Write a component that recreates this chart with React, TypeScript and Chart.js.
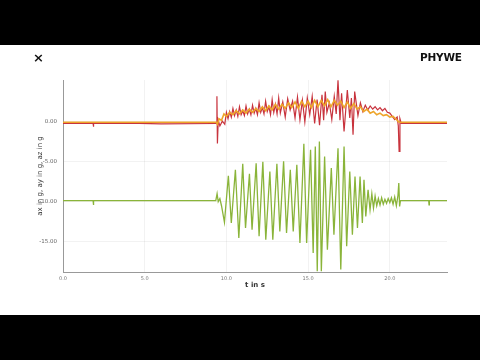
import React, { useEffect, useRef } from "react";
import { Chart, registerables } from "chart.js";

Chart.register(...registerables);

// x ticks and y ticks
const xTickValues = [0, 5, 10, 15, 20];
const yTickValues = [0, -5, -10, -15];

// ax (red)
const axT = [0, 1.84, 1.86, 1.88, 4, 6, 9.38, 9.42, 9.45, 9.5, 9.6, 9.75, 9.9, 10.0, 10.1, 10.2, 10.3, 10.4, 10.5, 10.6, 10.7, 10.8, 10.9, 11.0, 11.1, 11.2, 11.3, 11.4, 11.5, 11.6, 11.7, 11.8, 11.9, 12.0, 12.1, 12.2, 12.3, 12.4, 12.5, 12.6, 12.7, 12.8, 12.9, 13.0, 13.1, 13.2, 13.3, 13.45, 13.6, 13.75, 13.9, 14.05, 14.2, 14.35, 14.5, 14.65, 14.8, 14.95, 15.1, 15.25, 15.4, 15.55, 15.7, 15.85, 15.95, 16.05, 16.15, 16.3, 16.45, 16.6, 16.72, 16.83, 16.95, 17.05, 17.2, 17.4, 17.55, 17.65, 17.75, 17.85, 18.05, 18.2, 18.35, 18.5, 18.65, 18.8, 18.95, 19.1, 19.25, 19.4, 19.55, 19.7, 19.85, 20.0, 20.15, 20.3, 20.45, 20.52, 20.57, 20.62, 20.7, 23.5];
const axV = [-0.2, -0.2, -0.6, -0.2, -0.15, -0.25, -0.2, 3.2, -2.7, 0.2, -0.5, 0.1, -0.3, 1.2, 0.4, 1.3, 0.6, 1.7, 0.8, 1.5, 0.7, 1.9, 0.9, 1.4, 0.8, 2.0, 1.0, 1.6, 0.9, 2.1, 1.1, 1.7, 0.9, 2.4, 1.2, 1.8, 1.0, 2.6, 1.3, 1.9, 0.9, 2.8, 1.2, 2.2, 1.0, 3.0, 1.1, 2.5, 0.6, 2.9, 1.5, 2.6, 0.5, 3.1, 0.25, 2.7, 0.0, 3.0, 0.9, 3.2, -0.2, 2.8, -0.4, 3.4, 0.2, 3.8, 1.2, 2.4, 0.3, 3.2, 1.0, 5.2, 0.2, 3.6, -1.2, 4.0, 0.5, 3.0, -1.6, 3.8, 0.8, 2.4, 1.3, 2.1, 1.5, 2.0, 1.6, 1.9, 1.5, 1.8, 1.4, 1.7, 1.2, 1.1, 0.7, 0.3, 0.6, -0.5, -3.7, 0.4, -0.2, -0.2];

// ay (orange)
const ayT = [0, 9.38, 9.45, 9.55, 9.7, 9.85, 10.0, 10.2, 10.4, 10.6, 10.8, 11.0, 11.2, 11.4, 11.6, 11.8, 12.0, 12.2, 12.4, 12.6, 12.8, 13.0, 13.2, 13.4, 13.6, 13.8, 14.0, 14.2, 14.4, 14.6, 14.8, 15.0, 15.2, 15.4, 15.6, 15.8, 16.0, 16.2, 16.4, 16.6, 16.8, 17.0, 17.2, 17.4, 17.6, 17.8, 18.0, 18.2, 18.4, 18.6, 18.8, 19.0, 19.2, 19.4, 19.6, 19.8, 20.0, 20.2, 20.4, 20.55, 20.65, 23.5];
const ayV = [-0.05, -0.05, -0.3, 0.4, 0.2, 1.0, 0.7, 1.2, 0.9, 1.4, 1.0, 1.5, 1.1, 1.6, 1.2, 1.7, 1.3, 1.9, 1.4, 2.0, 1.5, 2.2, 1.6, 2.2, 1.7, 2.4, 1.8, 2.5, 1.7, 2.6, 1.9, 2.6, 1.8, 2.7, 1.9, 2.7, 2.0, 2.8, 1.9, 2.7, 2.1, 2.6, 1.8, 2.5, 1.7, 2.3, 1.6, 1.9, 1.3, 1.6, 1.1, 1.3, 0.9, 1.1, 0.8, 0.9, 0.6, 0.7, 0.3, 0.0, -0.05, -0.05];

// az (green)
const azT = [0, 1.84, 1.86, 1.88, 9.35, 9.43, 9.5, 9.6, 9.7, 9.88, 10.12, 10.3, 10.55, 10.76, 11.0, 11.17, 11.41, 11.57, 11.82, 12.0, 12.23, 12.41, 12.66, 12.84, 13.09, 13.27, 13.5, 13.68, 13.91, 14.09, 14.31, 14.5, 14.74, 14.91, 15.15, 15.31, 15.44, 15.56, 15.69, 15.81, 16.01, 16.18, 16.42, 16.58, 16.83, 17.0, 17.2, 17.36, 17.55, 17.71, 17.87, 18.02, 18.18, 18.32, 18.42, 18.53, 18.67, 18.79, 18.9, 19.0, 19.1, 19.2, 19.3, 19.4, 19.5, 19.6, 19.7, 19.8, 19.9, 20.0, 20.1, 20.2, 20.3, 20.4, 20.5, 20.55, 20.6, 20.65, 22.38, 22.4, 22.42, 23.5];
const azV = [-9.85, -9.85, -10.4, -9.85, -9.85, -9.0, -10.0, -9.6, -10.5, -12.58, -6.75, -12.67, -6.0, -14.54, -5.25, -13.29, -6.5, -13.5, -5.17, -14.33, -5.0, -14.75, -6.21, -14.75, -5.25, -13.71, -4.92, -13.92, -6.0, -13.71, -5.38, -15.17, -2.75, -15.17, -3.5, -16.42, -3.08, -18.7, -2.46, -18.7, -4.33, -16.0, -5.79, -14.13, -3.29, -18.5, -3.08, -15.58, -6.21, -14.13, -6.83, -13.29, -6.83, -12.67, -7.25, -11.83, -8.5, -11.0, -9.0, -10.8, -9.3, -10.5, -9.6, -10.4, -9.5, -10.3, -9.7, -10.2, -9.6, -10.1, -9.5, -10.3, -9.4, -10.5, -9.2, -7.67, -10.6, -9.85, -9.85, -10.4, -9.85, -9.85];

const toPoints = (t: number[], v: number[]) => t.map((x, i) => ({ x, y: v[i] }));

export default function App() {
  const ref = useRef<HTMLCanvasElement | null>(null);

  useEffect(() => {
    if (!ref.current) return;
    const chart = new Chart(ref.current, {
      type: "line",
      data: {
        datasets: [
          { label: "ay", data: toPoints(ayT, ayV), borderColor: "#eea52a", borderWidth: 1.6, pointRadius: 0, order: 0 },
          { label: "ax", data: toPoints(axT, axV), borderColor: "#c8333d", borderWidth: 1.2, pointRadius: 0, order: 1 },
          { label: "az", data: toPoints(azT, azV), borderColor: "#8ab43a", borderWidth: 1.3, pointRadius: 0, order: 2 },
        ],
      },
      options: {
        animation: false,
        responsive: false,
        maintainAspectRatio: false,
        layout: { padding: { top: 35, right: 33, bottom: 0, left: 0 } },
        plugins: { legend: { display: false }, tooltip: { enabled: false } },
        scales: {
          x: {
            type: "linear",
            min: 0,
            max: 23.5,
            afterFit: (s: any) => { s.height = 43; },
            afterBuildTicks: (s: any) => { s.ticks = xTickValues.map((value) => ({ value })); },
            ticks: { padding: 4, color: "#777", font: { size: 5, family: "DejaVu Sans" }, callback: (v: any) => Number(v).toFixed(1), maxRotation: 0 },
            grid: { color: "rgba(0,0,0,0.05)", drawTicks: false },
            border: { color: "#999", width: 1 },
            title: { display: true, text: "t in s", color: "#333", font: { size: 7, family: "DejaVu Sans", weight: "bold" }, padding: { top: 0, bottom: 26 } },
          },
          y: {
            type: "linear",
            min: -18.8,
            max: 5.25,
            afterFit: (s: any) => { s.width = 63; },
            afterBuildTicks: (s: any) => { s.ticks = yTickValues.map((value) => ({ value })); },
            ticks: { padding: 6, color: "#666", font: { size: 5.5, family: "DejaVu Sans" }, callback: (v: any) => Number(v).toFixed(2) },
            grid: { color: "rgba(0,0,0,0.05)", drawTicks: false },
            border: { color: "#999", width: 1 },
            title: { display: true, text: "ax in g, ay in g, az in g", color: "#333", font: { size: 7, family: "DejaVu Sans" }, padding: { top: 36, bottom: 0 } },
          },
        },
      },
    });
    return () => chart.destroy();
  }, []);

  return (
    <div style={{ position: "fixed", left: 0, top: 0, width: 480, height: 360, background: "#000", overflow: "hidden" }}>
      <div style={{ position: "absolute", left: 0, top: 45, width: 480, height: 270, background: "#fff" }}>
        <canvas ref={ref} width={480} height={270} style={{ position: "absolute", left: 0, top: 0, width: 480, height: 270 }} />
        <div style={{ position: "absolute", left: 33, top: 4, fontFamily: "DejaVu Sans", fontSize: 13, fontWeight: "bold", color: "#111", lineHeight: "18px" }}>×</div>
        <div style={{ position: "absolute", left: 420, top: 5, fontFamily: "DejaVu Sans", fontSize: 10.5, fontWeight: "bold", color: "#111", letterSpacing: -0.2, lineHeight: "14px" }}>PHYWE</div>
      </div>
    </div>
  );
}
